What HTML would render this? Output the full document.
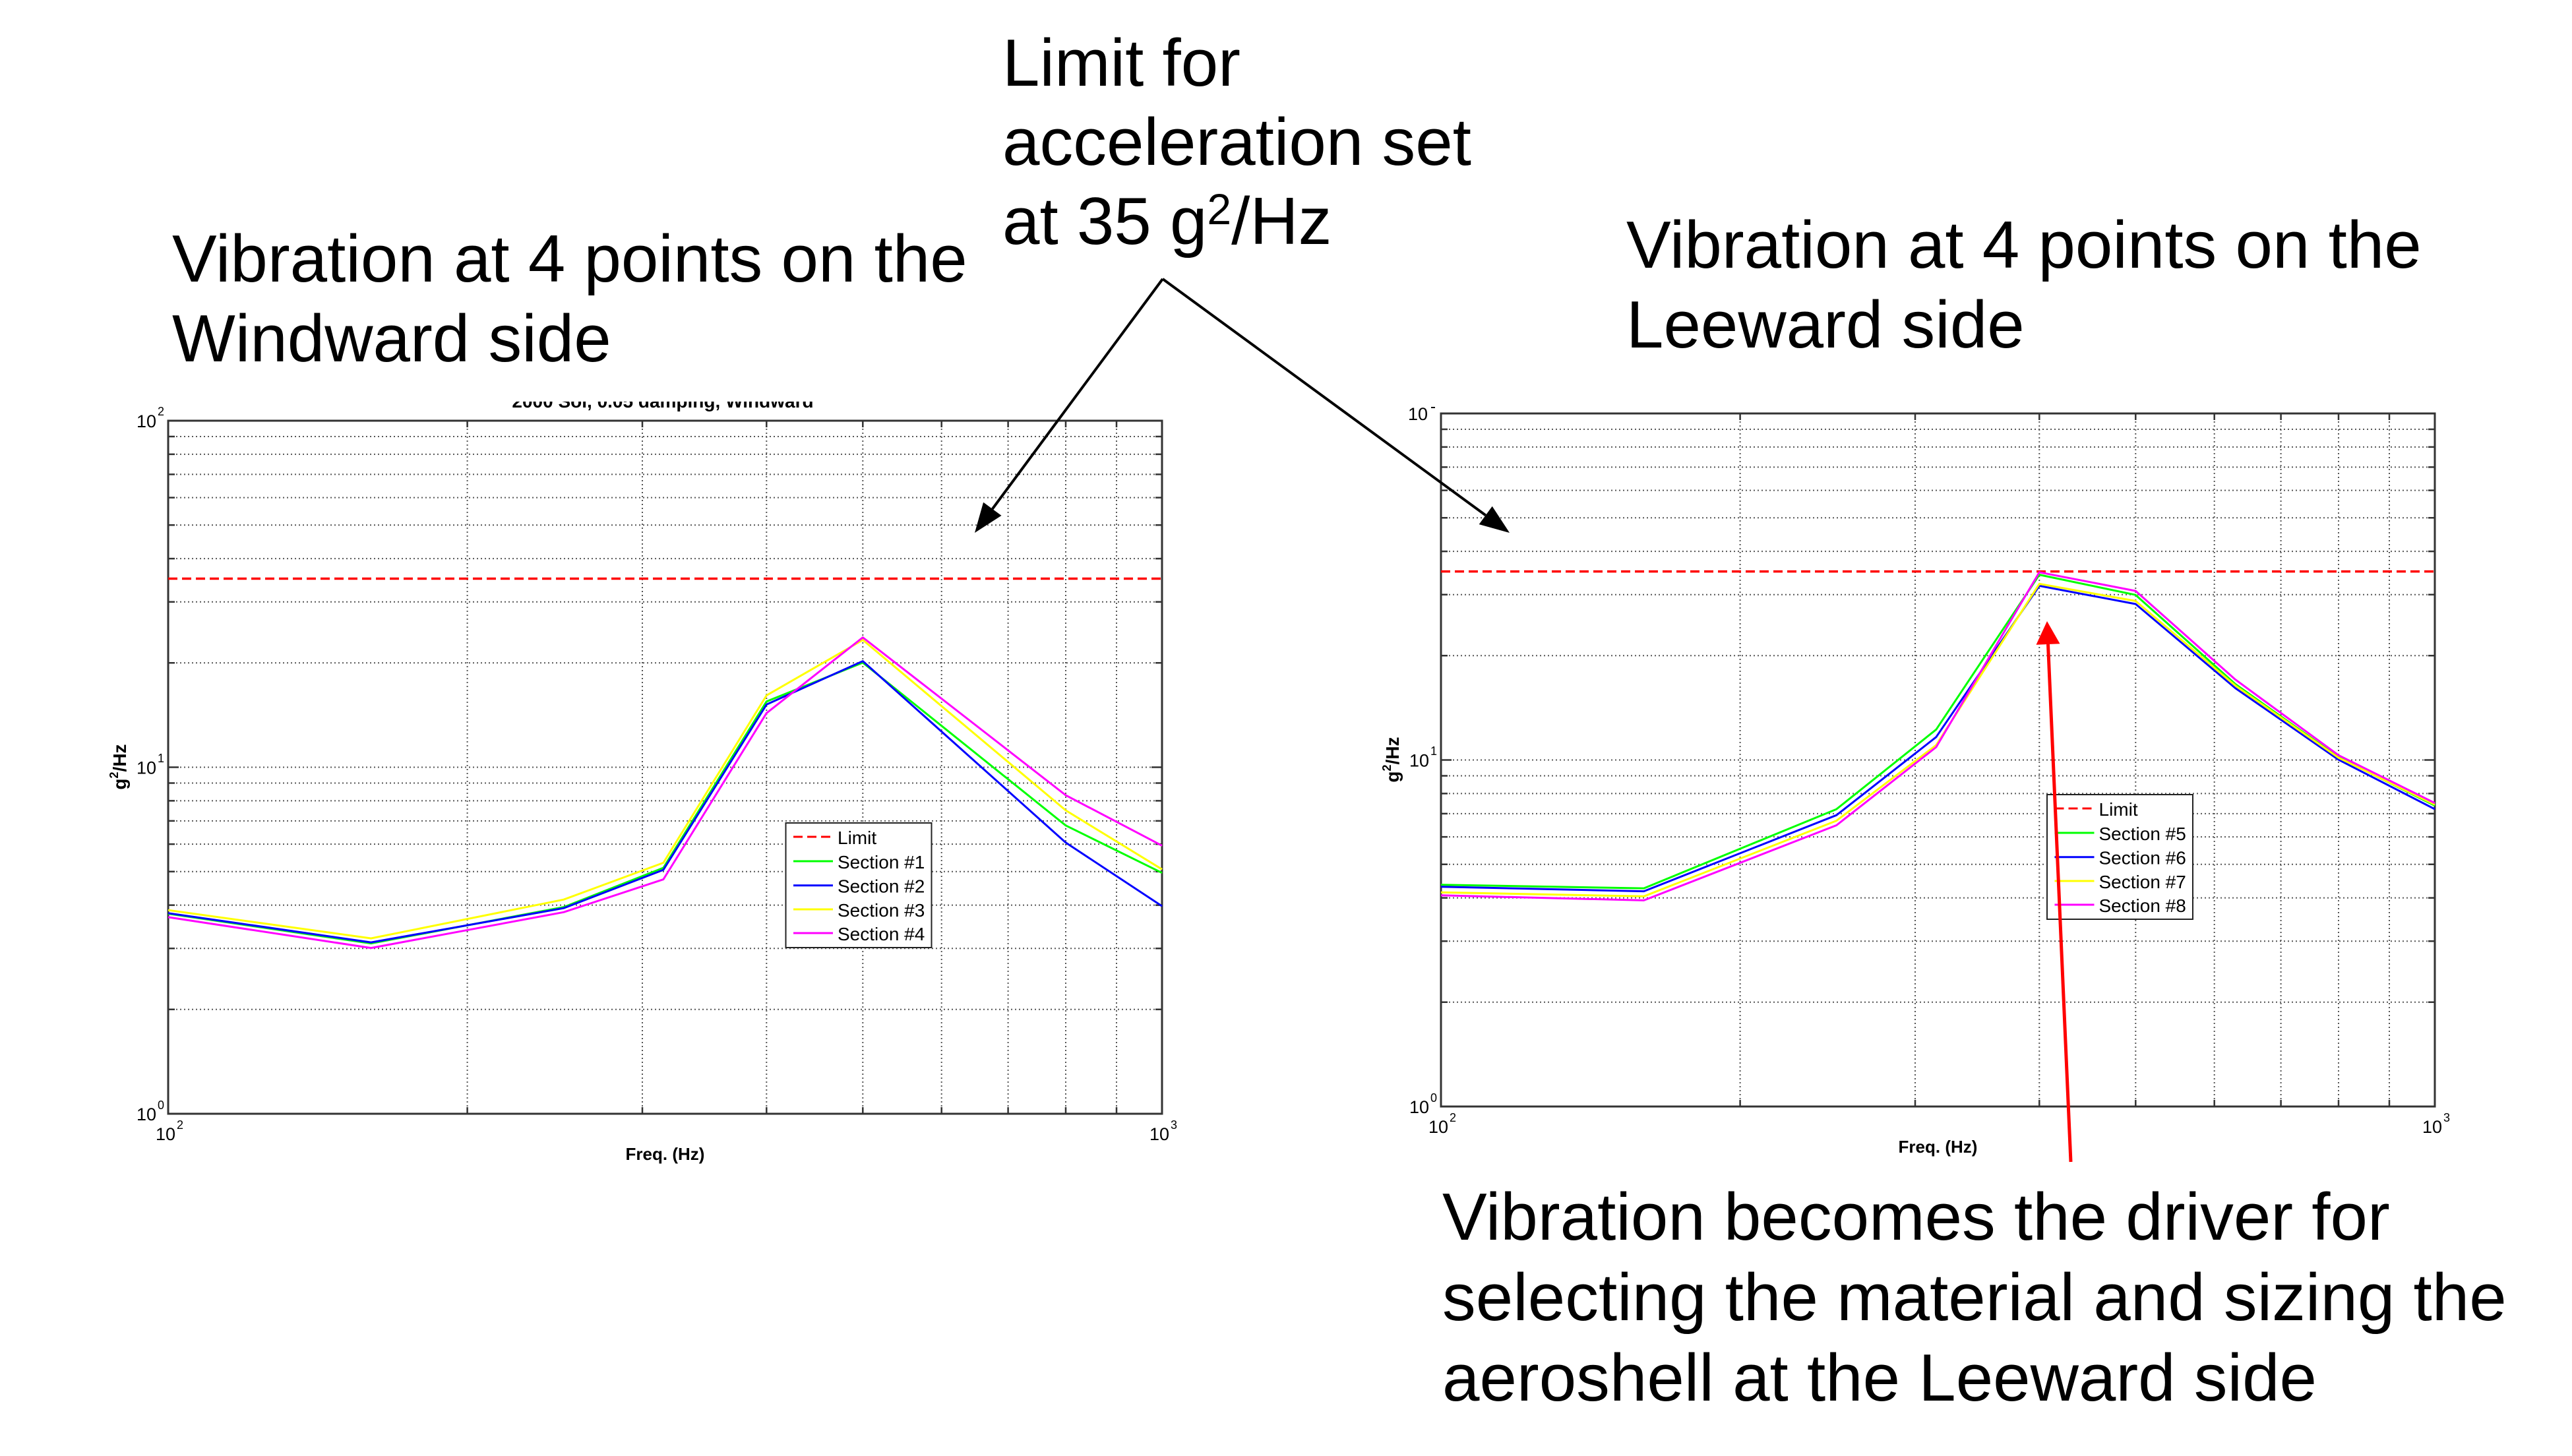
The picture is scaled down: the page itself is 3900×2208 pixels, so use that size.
<!DOCTYPE html>
<html>
<head>
<meta charset="utf-8">
<style>
html,body{margin:0;padding:0;background:#fff;}
svg{display:block;}
text{font-family:"Liberation Sans",Arial,Helvetica,sans-serif;fill:#000;}
</style>
</head>
<body>
<svg width="3900" height="2208" viewBox="0 0 3900 2208" xmlns="http://www.w3.org/2000/svg">
<rect x="0" y="0" width="3900" height="2208" fill="#fff"/>
<defs>
<clipPath id="tclip"><rect x="600" y="609" width="800" height="18"/></clipPath>
<g id="frame">
  <rect x="255" y="638" width="1507" height="1051" fill="#fff"/>
  <path d="M255 662H1762M255 688.9H1762M255 719.4H1762M255 754.6H1762M255 796.2H1762M255 847.1H1762M255 912.8H1762M255 1005.3H1762M255 1163.5H1762M255 1187.5H1762M255 1214.4H1762M255 1244.9H1762M255 1280.1H1762M255 1321.7H1762M255 1372.6H1762M255 1438.3H1762M255 1530.8H1762" stroke="#555" stroke-width="2" stroke-dasharray="2 4" fill="none"/>
  <path d="M708.6 638V1689M974 638V1689M1162.3 638V1689M1308.3 638V1689M1427.7 638V1689M1528.6 638V1689M1616 638V1689M1693 638V1689" stroke="#555" stroke-width="2" stroke-dasharray="2 4" fill="none"/>
  <path d="M255 662h10M255 688.9h10M255 719.4h10M255 754.6h10M255 796.2h10M255 847.1h10M255 912.8h10M255 1005.3h10M255 1163.5h16M255 1187.5h10M255 1214.4h10M255 1244.9h10M255 1280.1h10M255 1321.7h10M255 1372.6h10M255 1438.3h10M255 1530.8h10
  M1762 662h-10M1762 688.9h-10M1762 719.4h-10M1762 754.6h-10M1762 796.2h-10M1762 847.1h-10M1762 912.8h-10M1762 1005.3h-10M1762 1163.5h-16M1762 1187.5h-10M1762 1214.4h-10M1762 1244.9h-10M1762 1280.1h-10M1762 1321.7h-10M1762 1372.6h-10M1762 1438.3h-10M1762 1530.8h-10
  M708.6 1689v-10M974 1689v-10M1162.3 1689v-10M1308.3 1689v-10M1427.7 1689v-10M1528.6 1689v-10M1616 1689v-10M1693 1689v-10
  M708.6 638v10M974 638v10M1162.3 638v10M1308.3 638v10M1427.7 638v10M1528.6 638v10M1616 638v10M1693 638v10" stroke="#333" stroke-width="2.5" fill="none"/>
  <rect x="255" y="638" width="1507" height="1051" fill="none" stroke="#333" stroke-width="3"/>
  <text x="237" y="1173.5" font-size="27" text-anchor="end">10</text>
  <text x="239" y="1156" font-size="18">1</text>
  <text x="237" y="1699" font-size="27" text-anchor="end">10</text>
  <text x="239" y="1682" font-size="18">0</text>
  <text x="236" y="1729" font-size="27">10</text>
  <text x="268" y="1712" font-size="18">2</text>
  <text x="1743" y="1729" font-size="27">10</text>
  <text x="1775" y="1712" font-size="18">3</text>
  <text transform="translate(191,1163) rotate(-90)" font-size="28" font-weight="bold" text-anchor="middle">g<tspan font-size="18" dy="-12">2</tspan><tspan dy="12">/Hz</tspan></text>
  <text x="1008.5" y="1759" font-size="26" font-weight="bold" text-anchor="middle">Freq. (Hz)</text>
</g>
</defs>

<!-- LEFT PLOT -->
<use href="#frame"/>
<text x="237" y="648" font-size="27" text-anchor="end">10</text>
<text x="239" y="630" font-size="18">2</text>
<text x="1005" y="618" font-size="28" font-weight="bold" text-anchor="middle" clip-path="url(#tclip)">2000 Sol, 0.05 damping, Windward</text>

<line x1="255" y1="877.5" x2="1762" y2="877.5" stroke="#ff0000" stroke-width="3.5" stroke-dasharray="14 7"/>
<polyline fill="none" stroke="#00ff00" stroke-width="3" stroke-linejoin="round" points="255,1385.6 562.6,1430.7 854.7,1375.6 1005.9,1316 1162.3,1063.8 1308.3,1004.9 1616,1251.8 1762,1323.7"/>
<polyline fill="none" stroke="#0000ff" stroke-width="3" stroke-linejoin="round" points="255,1384.8 562.6,1429.1 854.7,1377.2 1005.9,1319.1 1162.3,1068.4 1308.3,1002.6 1616,1277.8 1762,1374.1"/>
<polyline fill="none" stroke="#ffff00" stroke-width="3" stroke-linejoin="round" points="255,1380.2 562.6,1423 854.7,1364.2 1005.9,1308.4 1162.3,1054.6 1308.3,970.5 1616,1228.9 1762,1318.3"/>
<polyline fill="none" stroke="#ff00ff" stroke-width="3" stroke-linejoin="round" points="255,1390.9 562.6,1437.6 854.7,1383.3 1005.9,1333.6 1162.3,1081.4 1308.3,966.7 1616,1205.9 1762,1282.4"/>

<rect x="1191.5" y="1248" width="221" height="189" fill="#fff" stroke="#222" stroke-width="2"/>
<line x1="1203" y1="1269" x2="1263" y2="1269" stroke="#ff0000" stroke-width="3" stroke-dasharray="14 7"/>
<line x1="1203" y1="1306" x2="1263" y2="1306" stroke="#00ff00" stroke-width="3"/>
<line x1="1203" y1="1342.7" x2="1263" y2="1342.7" stroke="#0000ff" stroke-width="3"/>
<line x1="1203" y1="1379" x2="1263" y2="1379" stroke="#ffff00" stroke-width="3"/>
<line x1="1203" y1="1415" x2="1263" y2="1415" stroke="#ff00ff" stroke-width="3"/>
<text x="1270" y="1280" font-size="28">Limit</text>
<text x="1270" y="1317" font-size="28">Section #1</text>
<text x="1270" y="1353.7" font-size="28">Section #2</text>
<text x="1270" y="1390" font-size="28">Section #3</text>
<text x="1270" y="1426" font-size="28">Section #4</text>

<!-- RIGHT PLOT -->
<use href="#frame" transform="translate(1930,-11)"/>
<text x="2165" y="637" font-size="27" text-anchor="end">10</text>
<rect x="2170" y="617" width="6" height="2" fill="#000"/>

<line x1="2185" y1="866.6" x2="3692" y2="866.6" stroke="#ff0000" stroke-width="3.5" stroke-dasharray="14 7"/>
<polyline fill="none" stroke="#00ff00" stroke-width="3" stroke-linejoin="round" points="2185,1341.7 2492.6,1347.1 2784.7,1227.1 2935.9,1106.3 3092.3,871.6 3238.3,902.2 3389.6,1037.5 3546,1148.3 3692,1221.7"/>
<polyline fill="none" stroke="#0000ff" stroke-width="3" stroke-linejoin="round" points="2185,1344.8 2492.6,1351.6 2784.7,1236.2 2935.9,1117.7 3092.3,888.4 3238.3,916 3389.6,1043.6 3546,1152.1 3692,1227.1"/>
<polyline fill="none" stroke="#ffff00" stroke-width="3" stroke-linejoin="round" points="2185,1353.2 2492.6,1359.3 2784.7,1244.6 2935.9,1129.9 3092.3,885.4 3238.3,911.4 3389.6,1039.8 3546,1149.1 3692,1220.2"/>
<polyline fill="none" stroke="#ff00ff" stroke-width="3" stroke-linejoin="round" points="2185,1357.8 2492.6,1365.4 2784.7,1251.5 2935.9,1133 3092.3,867.8 3238.3,896.1 3389.6,1030.6 3546,1145.3 3692,1217.8"/>

<rect x="3104" y="1205" width="221" height="189" fill="#fff" stroke="#222" stroke-width="2"/>
<line x1="3115.5" y1="1226" x2="3175.5" y2="1226" stroke="#ff0000" stroke-width="3" stroke-dasharray="14 7"/>
<line x1="3115.5" y1="1263" x2="3175.5" y2="1263" stroke="#00ff00" stroke-width="3"/>
<line x1="3115.5" y1="1299.7" x2="3175.5" y2="1299.7" stroke="#0000ff" stroke-width="3"/>
<line x1="3115.5" y1="1336" x2="3175.5" y2="1336" stroke="#ffff00" stroke-width="3"/>
<line x1="3115.5" y1="1372" x2="3175.5" y2="1372" stroke="#ff00ff" stroke-width="3"/>
<text x="3182.5" y="1237" font-size="28">Limit</text>
<text x="3182.5" y="1274" font-size="28">Section #5</text>
<text x="3182.5" y="1310.7" font-size="28">Section #6</text>
<text x="3182.5" y="1347" font-size="28">Section #7</text>
<text x="3182.5" y="1383" font-size="28">Section #8</text>

<!-- HEADINGS -->
<text x="261" y="427" font-size="101.5">Vibration at 4 points on the</text>
<text x="261" y="548" font-size="101.5">Windward side</text>

<text x="1520" y="130" font-size="101.5">Limit for</text>
<text x="1520" y="250" font-size="101.5">acceleration set</text>
<text x="1520" y="370" font-size="101.5">at 35 g<tspan font-size="66" dy="-30">2</tspan><tspan dy="30">/Hz</tspan></text>

<text x="2466" y="406" font-size="101.5">Vibration at 4 points on the</text>
<text x="2466" y="527" font-size="101.5">Leeward side</text>

<text x="2187" y="1880" font-size="101.5">Vibration becomes the driver for</text>
<text x="2187" y="2002" font-size="101.5">selecting the material and sizing the</text>
<text x="2187" y="2124" font-size="101.5">aeroshell at the Leeward side</text>

<!-- BLACK ARROWS -->
<line x1="1763" y1="423" x2="1504.8" y2="771.8" stroke="#000" stroke-width="4"/>
<polygon points="1478,808 1518.5,781.9 1491.1,761.7" fill="#000"/>
<line x1="1763" y1="423" x2="2252.7" y2="781.4" stroke="#000" stroke-width="4"/>
<polygon points="2289,808 2242.7,795.1 2262.7,767.7" fill="#000"/>

<!-- RED ARROW -->
<line x1="3140" y1="1762" x2="3105.5" y2="977" stroke="#ff0000" stroke-width="5"/>
<polygon points="3104,942 3123.5,976.2 3087.5,977.8" fill="#ff0000"/>
</svg>
</body>
</html>
